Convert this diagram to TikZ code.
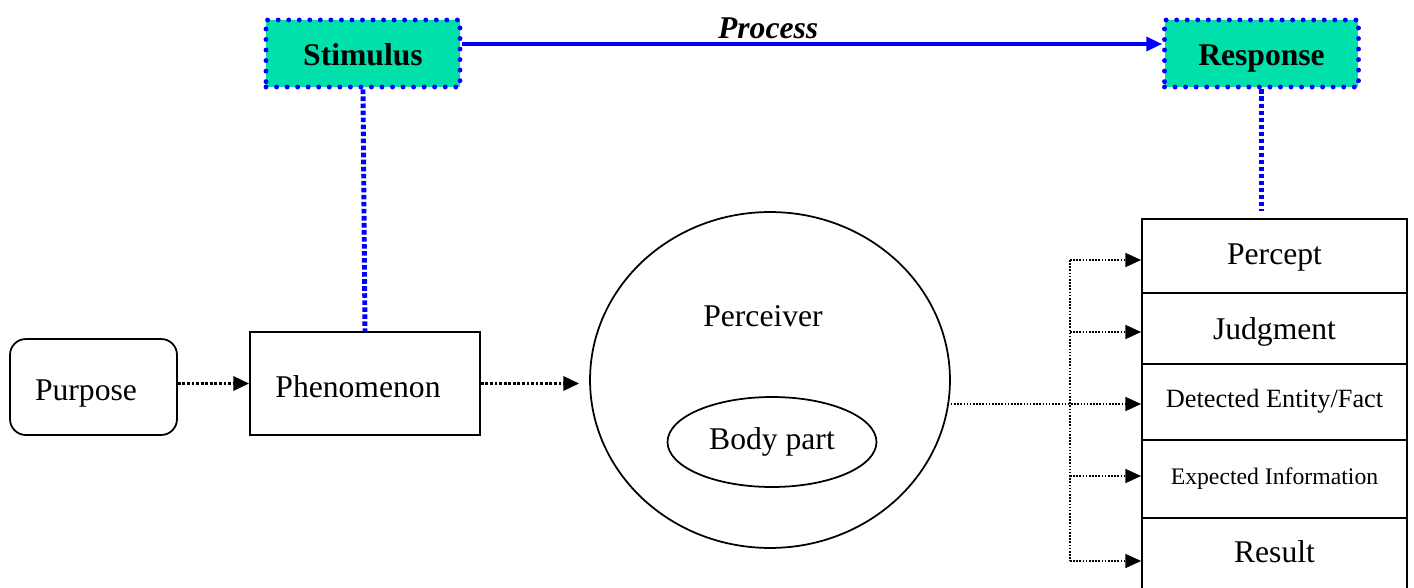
\documentclass[tikz,border=0pt]{standalone}
\usepackage{fontspec}
\setmainfont{Liberation Serif}
\usetikzlibrary{arrows.meta,shapes.geometric}
\definecolor{stimgreen}{HTML}{00E0AA}

\begin{document}
\begin{tikzpicture}[x=0.02cm,y=-0.02cm,
		font=\fontsize{18}{21}\selectfont,
		event/.style={draw=blue,fill=stimgreen,line width=2.8pt,dash pattern=on 0pt off 6pt,line cap=round,
			minimum width=3.88cm,minimum height=1.34cm,text height=14.2pt,text depth=0pt,
			font=\fontsize{18}{21}\selectfont\bfseries},
		box/.style={draw,line width=1pt,minimum width=4.6cm,minimum height=2.06cm},
		row/.style={draw,line width=1pt,minimum width=5.3cm,inner sep=0pt,text depth=0pt},
		link/.style={blue,line width=2.8pt,dash pattern=on 2.6pt off 1.4pt},
		flow/.style={line width=1.8pt,dash pattern=on 1.6pt off 1pt,-{Triangle[length=9pt,width=8pt]}},
		feed/.style={line width=0.8pt,dash pattern=on 0.9pt off 0.9pt,-{Triangle[length=9pt,width=8pt]}}]
		\useasboundingbox (0,0) rectangle (1414,588);
		
		% top line
		\node[event] (stim) at (363,53.5) {Stimulus};
		\node[event] (resp) at (1261.5,53.5) {Response};
		\draw[blue,line width=1.8pt,-{Triangle[length=9pt,width=8pt]}] ([yshift=0.19cm]stim.east) -- ([yshift=0.19cm]resp.west)
			node[pos=.437,above,inner sep=2.3pt,text=black,font=\fontsize{18}{21}\selectfont\bfseries\itshape] (proc) {Process};
		
		% left chain
		\node[box,minimum width=3.34cm,minimum height=1.92cm,rounded corners=9pt] (purpose) at (93.5,387) {};
		\node (purplabel) at (86,394) {Purpose};
		\node[box] (phen) at (365,383.5) {};
		\node (phenlabel) at (358,387) {Phenomenon};
		\node[draw,ellipse,line width=1pt,minimum width=7.2cm,minimum height=6.72cm] (perceiver) at (770,380) {};
		\node (perclabel) at (763,316) {Perceiver};
		\node[draw,ellipse,line width=1pt,minimum width=4.18cm,minimum height=1.8cm] (body) at (772,442) {Body part};
		
		% response stack
		\node[row,minimum height=1.48cm,text height=10.2pt] (percept) at (1274.5,256) {Percept};
		\node[row,minimum height=1.42cm,text height=13pt] (judgment) at (1274.5,328.5) {Judgment};
		\node[row,minimum height=1.52cm,text height=6.8pt,font=\fontsize{15}{18}\selectfont] (detected) at (1274.5,402) {Detected Entity/Fact};
		\node[row,minimum height=1.56cm,text height=6.8pt,font=\fontsize{13.5}{16}\selectfont] (expected) at (1274.5,479) {Expected Information};
		\node[row,minimum height=1.48cm,text height=9pt] (result) at (1274.5,555) {Result};
		
		% links to the top line
		\draw[link] (stim.south) -- (phen.north);
		\draw[link] (resp.south) -- ([yshift=0.14cm]resp.south |- percept.north);
		
		\draw[flow] (purpose.east |- phen.west) -- (phen.west);
		\draw[flow,shorten >=0.2cm] (phen.east) -- (phen.east -| perceiver.west);
		
		% fan out
		\coordinate (split) at (1070,404);
		\draw[feed] (split -| perceiver.east) -- (split -| detected.west);
		\draw[line width=0.8pt,dash pattern=on 0.9pt off 0.9pt] ([yshift=-0.08cm]split |- percept.west) -- ([yshift=-0.12cm]split |- result.west);
		\draw[feed] ([yshift=-0.08cm]split |- percept.west) -- ([yshift=-0.08cm]percept.west);
		\draw[feed] ([yshift=-0.07cm]split |- judgment.west) -- ([yshift=-0.07cm]judgment.west);
		\draw[feed] ([yshift=0.06cm]split |- expected.west) -- ([yshift=0.06cm]expected.west);
		\draw[feed] ([yshift=-0.12cm]split |- result.west) -- ([yshift=-0.12cm]result.west);
		
	\end{tikzpicture}
\end{document}
